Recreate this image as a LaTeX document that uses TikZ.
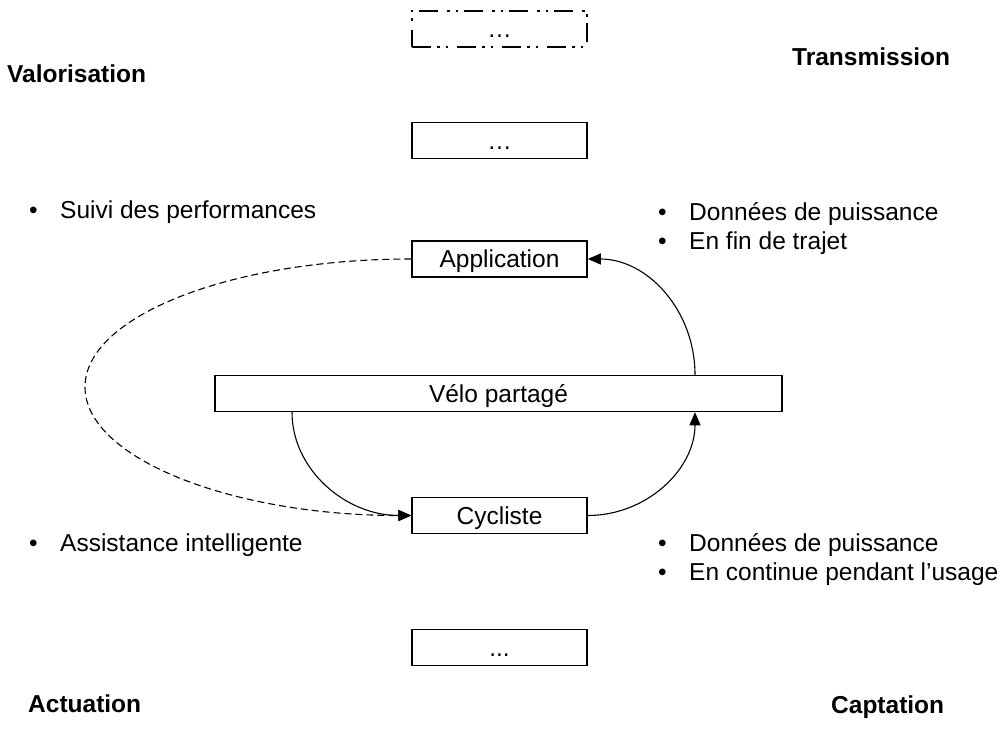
\documentclass[tikz,border=0pt]{standalone}
\usepackage{fontspec}
\setmainfont{Liberation Sans}
\usetikzlibrary{arrows.meta}
\newcommand{\diagfont}{\fontsize{24.5}{29}\selectfont}
\newcommand{\bul}{\makebox[31pt][l]{•}}
\tikzset{
  every picture/.style={x=1pt, y=-1pt, >={Triangle[length=13pt,width=11pt]}},
  box/.style={draw, line width=1.5pt, minimum width=175pt, minimum height=36pt,
    inner sep=0pt, text height=17.6pt, text depth=0pt, font=\diagfont},
  ghost/.style={box, line width=1.8pt,
    dash pattern=on 19pt off 6pt on 2.5pt off 6pt on 2.5pt off 9pt},
  lbl/.style={anchor=base west, inner sep=0pt, font=\diagfont},
  ttl/.style={lbl, font=\diagfont\bfseries},
  flow/.style={->, line width=1.1pt},
  back/.style={flow, dash pattern=on 7pt off 4pt},
}
\begin{document}
\begin{tikzpicture}
  \path[use as bounding box] (0,0) rectangle (1004,730);
  % chain of boxes
  \node[ghost] (etcA) at (499.5,29) {…};
  \node[box] (etcB) at (499.5,140.5) {…};
  \node[box] (app) at (499.5,259) {Application};
  \node[box, minimum width=567pt] (velo) at (498.5,393.5) {Vélo partagé};
  \node[box] (cyc) at (499.5,515.5) {Cycliste};
  \node[box] (etcC) at (499.5,647.5) {...};
  % corner titles
  \node[ttl] (valo) at (7,83) {Valorisation};
  \node[ttl] (trans) at (792,66) {Transmission};
  \node[ttl] (actu) at (28,712) {Actuation};
  \node[ttl] (capt) at (831,713) {Captation};
  % bullet lists
  \node[lbl] (perf) at (29,219) {\bul Suivi des performances};
  \node[lbl] (donA) at (658,221) {\bul Données de puissance};
  \node[lbl] (trajet) at ([yshift=-29pt]donA.base west) {\bul En fin de trajet};
  \node[lbl] (assist) at (29,551) {\bul Assistance intelligente};
  \node[lbl] (donB) at (658,551) {\bul Données de puissance};
  \node[lbl] (usage) at ([yshift=-29pt]donB.base west) {\bul En continue pendant l’usage};
  % loop
  \draw[flow] ([xshift=196.5pt]velo.north) .. controls +(0,-64) and +(60,0) .. (app.east);
  \draw[flow] ([xshift=-206.5pt]velo.south) .. controls +(0,57) and +(-66,0) .. (cyc.west);
  \draw[flow] (cyc.east) .. controls +(59,0) and +(0,57) .. ([xshift=196.5pt]velo.south);
  \coordinate (loopL) at (85,387);
  \draw[back] (app.west) .. controls +(-180,0) and +(0,-71) .. (loopL)
    .. controls +(0,71) and +(-180,0) .. (cyc.west);
\end{tikzpicture}
\end{document}
